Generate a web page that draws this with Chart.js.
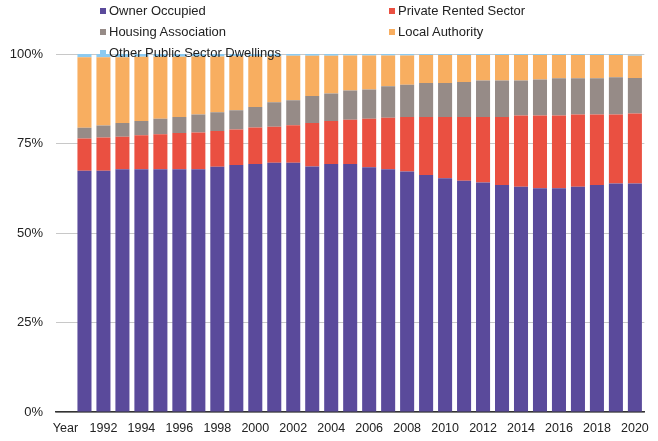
<!DOCTYPE html>
<html>
<head>
<meta charset="utf-8">
<script src="https://cdn.jsdelivr.net/npm/chart.js@4"></script>
<style>
  html, body { margin: 0; padding: 0; background: #fff; }
  #wrap { position: relative; width: 658px; height: 441px; }
  canvas { position: absolute; left: 0; top: 0; }
  .lg { position: absolute; font-family: "Liberation Sans", Arial, sans-serif; font-size: 13px; color: #222; line-height: 14px; white-space: nowrap; }
  .lg i { display: inline-block; width: 6px; height: 6px; margin-right: 3px; vertical-align: 1px; }
</style>
</head>
<body>
<div id="wrap">
  <canvas id="c" width="658" height="441"></canvas>
  <div id="legend"></div>
</div>
<script>
// Categories (first slot is the "Year" header category with no data)
const categories = ['Year','1991','1992','1993','1994','1995','1996','1997','1998','1999','2000',
  '2001','2002','2003','2004','2005','2006','2007','2008','2009','2010',
  '2011','2012','2013','2014','2015','2016','2017','2018','2019','2020'];

// Series values (% of dwelling stock)
const ownerOccupied = [null,67.4,67.4,67.8,67.8,67.8,67.8,67.8,68.5,69.0,69.3,
  69.6,69.6,68.6,69.3,69.3,68.4,67.8,67.2,66.2,65.3,
  64.6,64.1,63.4,62.9,62.5,62.5,62.9,63.4,63.8,63.8];
const privateRented = [null,9.0,9.3,9.1,9.5,9.8,10.1,10.3,10.0,9.9,10.2,
  10.1,10.5,12.1,12.0,12.3,13.5,14.4,15.2,16.2,17.1,
  17.8,18.3,19.0,19.9,20.3,20.3,20.2,19.7,19.3,19.6];
const housingAssociation = [null,3.0,3.3,3.8,4.0,4.3,4.5,5.0,5.2,5.4,5.7,
  6.8,7.0,7.6,7.7,8.2,8.2,8.8,9.0,9.5,9.5,
  9.8,10.2,10.2,9.8,10.1,10.4,10.1,10.1,10.4,9.9];
const localAuthority = [null,19.7,19.1,18.4,17.9,17.3,16.8,16.2,15.6,15.1,14.2,
  12.9,12.4,11.2,10.5,9.8,9.5,8.6,8.2,7.8,7.8,
  7.5,7.1,7.1,7.1,6.8,6.5,6.5,6.5,6.2,6.2];
const otherPublic = [null,0.9,0.9,0.9,0.8,0.8,0.8,0.7,0.7,0.6,0.6,
  0.6,0.5,0.5,0.5,0.4,0.4,0.4,0.4,0.3,0.3,
  0.3,0.3,0.3,0.3,0.3,0.3,0.3,0.3,0.3,0.3];

const seriesNames = ['Owner Occupied','Private Rented Sector','Housing Association','Local Authority','Other Public Sector Dwellings'];
const yTicks = [0,25,50,75,100];

const colors = ['#5A4A9B','#EA5041','#968B87','#F8AE60','#8CCAF0'];
const seriesData = [ownerOccupied, privateRented, housingAssociation, localAuthority, otherPublic];

const datasets = seriesNames.map((n,i)=>({
  label: n,
  data: seriesData[i],
  backgroundColor: colors[i],
  borderWidth: 0,
  categoryPercentage: 1.0,
  barPercentage: 0.74
}));

new Chart(document.getElementById('c'), {
  type: 'bar',
  data: { labels: categories, datasets },
  options: {
    responsive: false,
    animation: false,
    devicePixelRatio: 1,
    layout: { padding: { top: 54, right: 13, left: 0, bottom: 0 } },
    plugins: { legend: { display: false }, tooltip: { enabled: false } },
    scales: {
      x: {
        stacked: true,
        grid: { display: false, drawTicks: false },
        border: { display: true, color: '#333', width: 1.5 },
        ticks: {
          autoSkip: false, maxRotation: 0, minRotation: 0, padding: 9,
          color: '#222',
          font: { family: '"Liberation Sans", Arial, sans-serif', size: 12.5 },
          callback: function(v, i) { return i % 2 === 0 ? categories[i] : ''; }
        },
        afterFit: s => { s.height = 29; }
      },
      y: {
        stacked: true,
        min: 0, max: 100,
        afterBuildTicks: s => { s.ticks = yTicks.map(v => ({ value: v })); },
        grid: { color: '#C8C8C8', lineWidth: 1, drawTicks: false },
        border: { display: false },
        ticks: {
          padding: 13, color: '#222',
          font: { family: '"Liberation Sans", Arial, sans-serif', size: 13 },
          callback: v => v + '%'
        },
        afterFit: s => { s.width = 56; }
      }
    }
  }
});

// HTML legend (two columns, as in the reference)
const legendPos = [[100,4],[389,4],[100,25],[389,25],[100,46]];
const lg = document.getElementById('legend');
seriesNames.forEach((n,i)=>{
  const d = document.createElement('div');
  d.className = 'lg';
  d.style.left = legendPos[i][0] + 'px';
  d.style.top = legendPos[i][1] + 'px';
  d.innerHTML = '<i style="background:' + colors[i] + '"></i>' + n;
  lg.appendChild(d);
});
</script>
</body>
</html>
